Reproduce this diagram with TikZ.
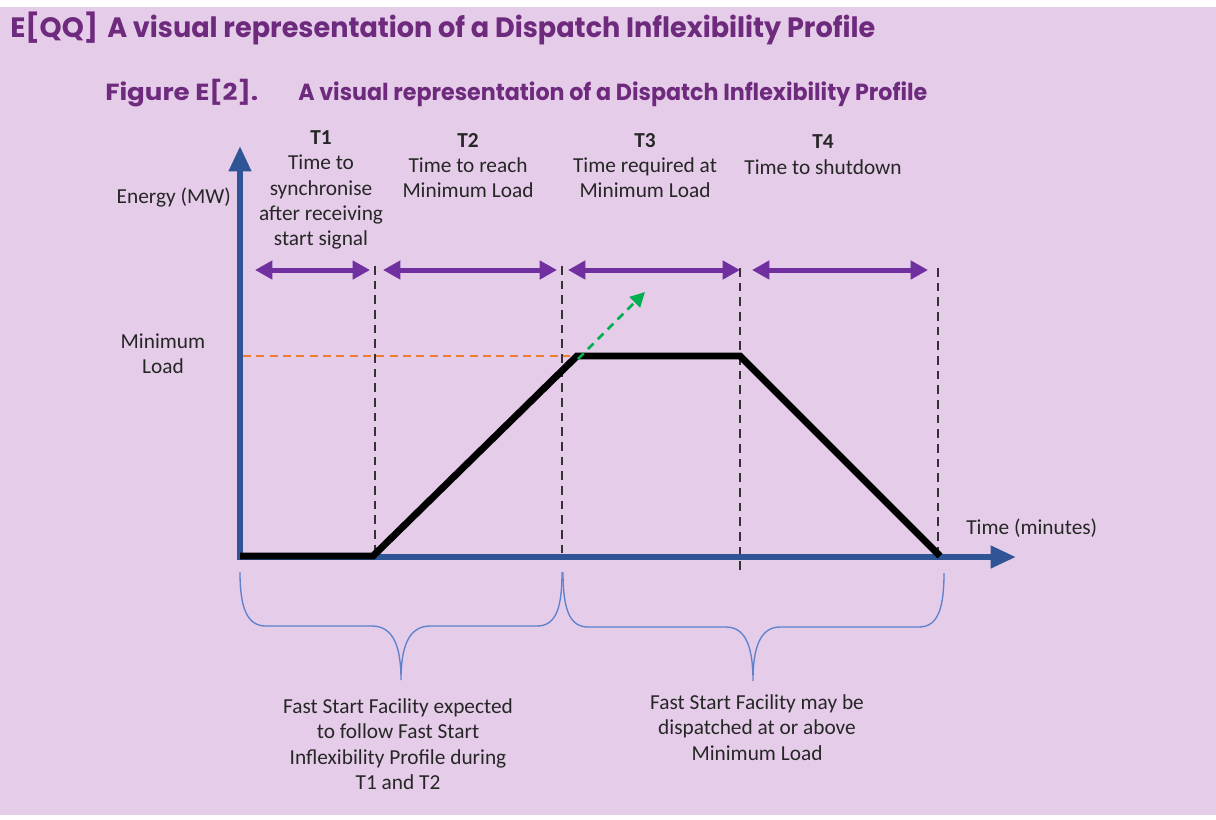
\documentclass[tikz,border=0pt]{standalone}
\usepackage{fontspec}
\usepackage{graphicx}
\setmainfont{Carlito}
\newfontfamily\titlefont{Poppins}
\usetikzlibrary{arrows.meta}
\definecolor{bgl}{RGB}{229,204,233}
\definecolor{ttl}{RGB}{110,42,125}
\definecolor{axb}{RGB}{47,85,151}
\definecolor{prp}{RGB}{112,48,160}
\definecolor{grn}{RGB}{0,176,80}
\definecolor{org}{RGB}{237,125,49}
\definecolor{brc}{RGB}{92,130,205}
\definecolor{txg}{RGB}{38,38,38}
\definecolor{dsh}{RGB}{50,50,50}
\newlength\fitlen
\newcommand\fitto[2]{\settowidth\fitlen{#2}\scalebox{\fpeval{(#1)/(\the\fitlen)}}[1]{#2}}
\tikzset{
  txt/.style={font=\fontsize{16}{19}\selectfont, text=txg, align=center, inner sep=0pt},
  ttlA/.style={inner sep=0pt, text=ttl, anchor=base west},
  axis/.style={draw=axb, line width=4.5pt, -{Triangle[length=19pt,width=16pt]}},
  prof/.style={draw=black, line width=5.2pt},
  vdash/.style={draw=dsh, line width=1.8pt, dash pattern=on 6.5pt off 4.5pt},
  span/.style={draw=prp, line width=3.75pt, {Triangle[length=13pt,width=13.5pt]}-{Triangle[length=13pt,width=13.5pt]}},
  brace/.style={draw=brc, line width=1pt},
}
\begin{document}
\begin{tikzpicture}[x=0.75pt,y=-0.75pt]
\fill[white] (0,0) rectangle (1216,819);
\fill[bgl] (0,7) rectangle (1216,815);
\useasboundingbox (0,0) rectangle (1216,819);
% titles
\node[ttlA] (tq) at (10,37) {\fitto{66}{\titlefont\bfseries\fontsize{21}{24}\selectfont E[QQ]}};
\node[ttlA] (tm) at (107,37) {\fitto{576}{\titlefont\bfseries\fontsize{21}{24}\selectfont A visual representation of a Dispatch Inflexibility Profile}};
\node[ttlA] (fa) at (105,100) {\fitto{114.75}{\titlefont\bfseries\fontsize{17.5}{20}\selectfont Figure E[2].}};
\node[ttlA] (fb) at (298,100) {\fitto{471.75}{\titlefont\bfseries\fontsize{17.5}{20}\selectfont A visual representation of a Dispatch Inflexibility Profile}};
% coordinates
\coordinate (O) at (240,558);
\coordinate (Yt) at (240,146);
\coordinate (Xs) at (237,557);
\coordinate (Xt) at (1016,557);
\coordinate (p0) at (240,556);
\coordinate (p1) at (373,556);
\coordinate (p2) at (577,356);
\coordinate (p3) at (740,356);
\coordinate (p4) at (940,556);
% dashed verticals
\coordinate (v1a) at (375,266); \coordinate (v1b) at (375,556);
\coordinate (v2a) at (562,266); \coordinate (v2b) at (562,556);
\coordinate (v3a) at (740,268); \coordinate (v3b) at (740,570);
\coordinate (v4a) at (938,268); \coordinate (v4b) at (938,556);
\draw[vdash] (v1a) -- (v1b);
\draw[vdash] (v2a) -- (v2b);
\draw[vdash] (v3a) -- (v3b);
\draw[vdash] (v4a) -- (v4b);
% axes
\draw[axis] (O) -- (Yt);
\draw[axis] (Xs) -- (Xt);
% profile
\draw[prof] (p0) -- (p1) -- (p2) -- (p3) -- (p4);
% minimum load line
\coordinate (m0) at (243,356);
\coordinate (m1) at (570,356);
\draw[org, line width=1.5pt, dash pattern=on 6pt off 4pt] (m0) -- (m1);
% green arrow
\coordinate (g0) at (578,359);
\coordinate (g1) at (645,292);
\draw[grn, line width=1.9pt, dash pattern=on 6pt off 4.5pt, -{Triangle[length=11pt,width=11pt]}] (g0) -- (g1);
% spans
\coordinate (a1) at (255,270); \coordinate (b1) at (370,270);
\coordinate (a2) at (383,270); \coordinate (b2) at (557,270);
\coordinate (a3) at (568,270); \coordinate (b3) at (740,270);
\coordinate (a4) at (752,270); \coordinate (b4) at (928,270);
\draw[span] (a1) -- (b1);
\draw[span] (a2) -- (b2);
\draw[span] (a3) -- (b3);
\draw[span] (a4) -- (b4);
% braces
\coordinate (bl1) at (240,572); \coordinate (bt1) at (401,680); \coordinate (br1) at (562,572);
\coordinate (bl2) at (563,572); \coordinate (bt2) at (753,681); \coordinate (br2) at (944,573);
\draw[brace] (bl1) .. controls (240,608) and (247,626) .. (266,626) -- (372,626)
  .. controls (394,626) and (401,648) .. (bt1)
  .. controls (401,648) and (408,626) .. (430,626) -- (537,626)
  .. controls (556,626) and (562,608) .. (br1);
\draw[brace] (bl2) .. controls (563,608) and (569,627) .. (588,627) -- (726,627)
  .. controls (747,627) and (753,650) .. (bt2)
  .. controls (753,650) and (759,627) .. (780,627) -- (919,627)
  .. controls (938,627) and (944,608) .. (br2);
% labels
\node[txt] (t1) at (321,190) {\textbf{T1}\\Time to\\synchronise\\after receiving\\start signal};
\node[txt] (t2) at (468,165.5) {\textbf{T2}\\Time to reach\\Minimum Load};
\node[txt] (t3) at (645,165.5) {\textbf{T3}\\Time required at\\Minimum Load};
\node[txt] (t4) at (823,154.5) {\textbf{T4}\\Time to shutdown};
\node[txt, anchor=east] (ey) at (231,198) {Energy (MW)};
\node[txt] (ml) at (163,354) {Minimum\\Load};
\node[txt, anchor=west] (tx) at (966,528) {Time (minutes)};
\node[txt] (n1) at (398,744) {Fast Start Facility expected\\to follow Fast Start\\Inflexibility Profile during\\T1 and T2};
\node[txt] (n2) at (757,727.5) {Fast Start Facility may be\\dispatched at or above\\Minimum Load};
\end{tikzpicture}
\end{document}
